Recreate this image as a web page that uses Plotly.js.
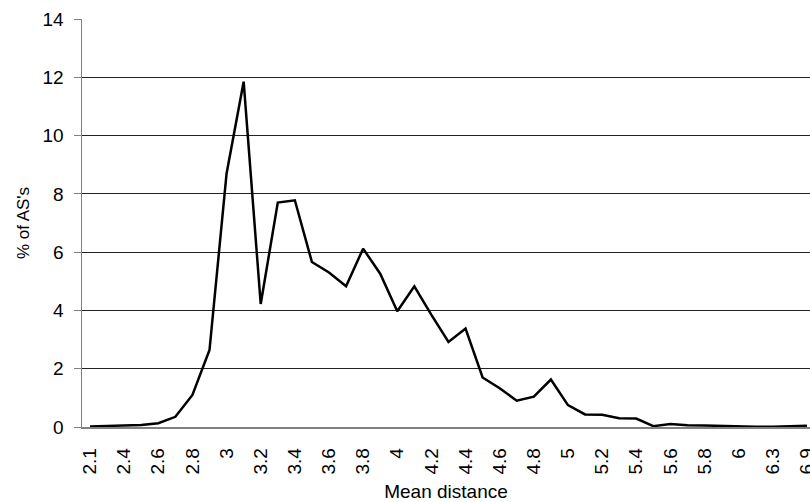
<!DOCTYPE html>
<html>
<head>
<meta charset="utf-8">
<script src="https://cdn.plot.ly/plotly-3.0.1.min.js"></script>
<style>html,body{margin:0;padding:0;background:#fff;}#chart{width:810px;height:502px;}</style>
</head>
<body>
<div id="chart"></div>
<script>
var categories = ["2.1","2.3","2.4","2.5","2.6","2.7","2.8","2.9","3","3.1","3.2","3.3","3.4","3.5","3.6","3.7","3.8","3.9","4","4.1","4.2","4.3","4.4","4.5","4.6","4.7","4.8","4.9","5","5.1","5.2","5.3","5.4","5.5","5.6","5.7","5.8","5.9","6","6.2","6.3","6.5","6.9"];
var percentAS = [0.02,0.04,0.05,0.07,0.13,0.35,1.1,2.64,8.7,11.85,4.22,7.7,7.78,5.66,5.3,4.83,6.12,5.26,3.97,4.83,3.85,2.92,3.38,1.7,1.33,0.9,1.04,1.63,0.75,0.43,0.42,0.3,0.29,0.03,0.1,0.06,0.05,0.03,0.02,0.01,0.01,0.02,0.04];
var xTickLabels = ["2.1","2.4","2.6","2.8","3","3.2","3.4","3.6","3.8","4","4.2","4.4","4.6","4.8","5","5.2","5.4","5.6","5.8","6","6.3","6.9"];
var yTicks = [0,2,4,6,8,10,12,14];

var font = "Liberation Sans, Arial, sans-serif";
var trace = {
  x: categories,
  y: percentAS,
  type: "scatter",
  mode: "lines",
  line: {color: "#000", width: 2.5},
  hoverinfo: "x+y"
};
var layout = {
  width: 810, height: 502,
  margin: {l: 82, r: 0, t: 19, b: 75, pad: 0},
  paper_bgcolor: "#fff", plot_bgcolor: "#fff",
  showlegend: false,
  font: {family: font, size: 19, color: "#000"},
  xaxis: {
    type: "category",
    categoryorder: "array",
    categoryarray: categories,
    range: [-0.47, 42.18],
    tickmode: "array",
    tickvals: xTickLabels,
    ticktext: xTickLabels,
    tickangle: -90,
    ticks: "",
    showgrid: false,
    zeroline: false,
    showline: true,
    linecolor: "#808080",
    linewidth: 1.5,
    ticklabelstandoff: 12,
    tickfont: {family: font, size: 19, color: "#000"},
    title: {text: "Mean distance", font: {family: font, size: 19, color: "#000"}, standoff: 12},
    automargin: false,
    fixedrange: true
  },
  yaxis: {
    range: [0, 14],
    tickmode: "array",
    tickvals: yTicks,
    ticks: "outside",
    ticklen: 7,
    tickcolor: "#808080",
    tickwidth: 1,
    showgrid: true,
    gridcolor: "#222",
    gridwidth: 1,
    zeroline: false,
    showline: true,
    linecolor: "#808080",
    linewidth: 1.5,
    ticklabelstandoff: 6,
    tickfont: {family: font, size: 19, color: "#000"},
    title: {text: "% of AS's", font: {family: font, size: 17, color: "#000"}, standoff: 8},
    automargin: false,
    fixedrange: true
  }
};
Plotly.newPlot("chart", [trace], layout, {displayModeBar: false, staticPlot: true});
</script>
</body>
</html>
